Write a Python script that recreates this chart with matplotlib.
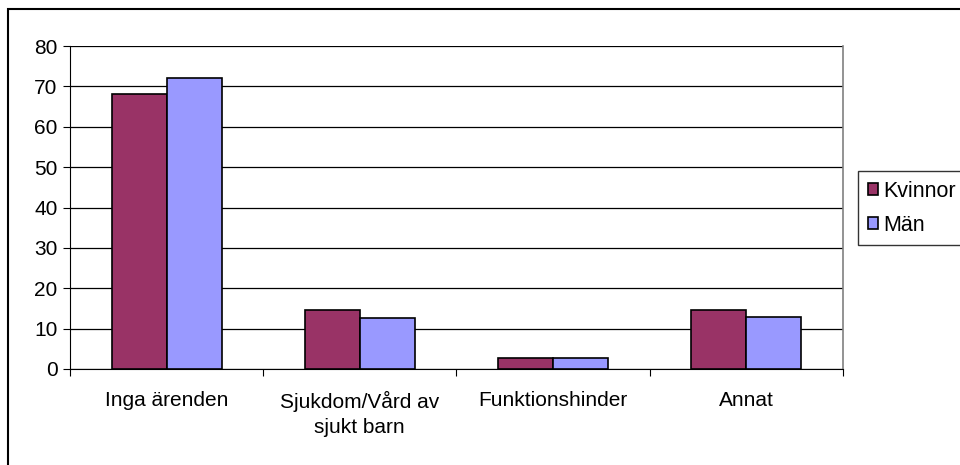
import numpy as np
import matplotlib.pyplot as plt
from matplotlib.patches import Rectangle

plt.rcParams["font.family"] = ["Liberation Sans", "DejaVu Sans"]

categories = ["Inga ärenden", "Sjukdom/Vård av\nsjukt barn", "Funktionshinder", "Annat"]
kvinnor = [68, 14.6, 2.7, 14.6]
man = [72.2, 12.6, 2.7, 12.9]

fig = plt.figure(figsize=(9.6, 4.65), dpi=100)
ax = fig.add_axes([0.0729, 0.2065, 0.805, 0.6945])

x = np.arange(len(categories))
w = 0.285
ax.bar(x - w / 2, kvinnor, w, color="#993366", edgecolor="black", linewidth=1.2, label="Kvinnor", zorder=3)
ax.bar(x + w / 2, man, w, color="#9999FF", edgecolor="black", linewidth=1.2, label="Män", zorder=3)

ax.set_xlim(-0.5, len(categories) - 0.5)
ax.set_ylim(0, 80)
ax.set_yticks(range(0, 81, 10))
ax.yaxis.grid(True, color="black", linewidth=0.9, zorder=0)

ax.set_xticks(np.arange(len(categories) + 1) - 0.5)
ax.set_xticklabels([])
ax.set_xticks(x, minor=True)
ax.set_xticklabels(categories, minor=True, fontsize=15, linespacing=1.4)
ax.tick_params(axis="x", which="minor", length=0, pad=16)
ax.tick_params(axis="x", which="major", length=5, direction="out")
ax.tick_params(axis="y", length=5, direction="out", labelsize=15, pad=4)

ax.spines["top"].set_visible(False)
ax.spines["right"].set_color("#808080")
ax.spines["right"].set_linewidth(1.2)

fig.legend(loc="upper left", bbox_to_anchor=(858 / 960, 1 - 171 / 465), fontsize=15.5,
           frameon=True, fancybox=False, edgecolor="black", handlelength=0.5,
           handleheight=0.5, handletextpad=0.2, borderpad=0.45, labelspacing=0.6,
           borderaxespad=0)

fig.patches.append(Rectangle((8 / 960, -0.1), 1, 1.1 - 9 / 465, transform=fig.transFigure,
                             fill=False, edgecolor="black", linewidth=1.5, clip_on=False))

fig.savefig("out.png", dpi=100)
